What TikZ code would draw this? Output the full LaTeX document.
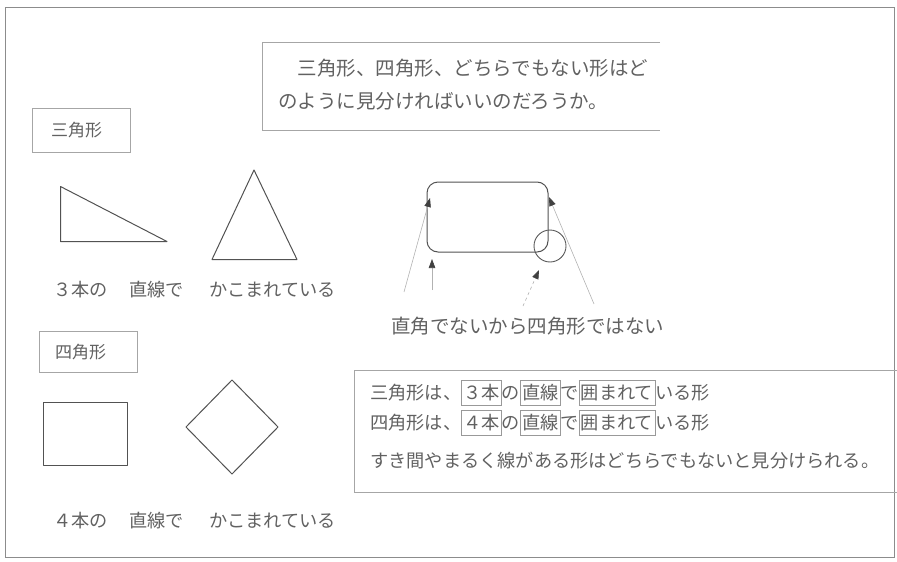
\documentclass[tikz,border=0pt]{standalone}
\usepackage{fontspec}
\setmainfont{Noto Sans CJK JP}
\usetikzlibrary{arrows.meta}
\newcommand\kakomi[1]{{\setlength\fboxsep{1.5pt}\setlength\fboxrule{0.6pt}\fcolorbox{black!40}{white}{\rule[-0.25em]{0pt}{1.2em}#1}}}
\tikzset{
  frame/.style={draw=black!45, line width=0.8pt},
  panel/.style={draw=black!35, line width=0.7pt},
  figline/.style={draw=black!68, line width=1pt, line join=round},
  txt/.style={text=black!62, inner sep=0pt, anchor=west},
  qtxt/.style={txt, font=\fontsize{19.5}{22}\selectfont},
  btxt/.style={txt, font=\fontsize{18.2}{22}\selectfont},
  ltxt/.style={txt, font=\fontsize{17}{20}\selectfont},
  ctxt/.style={txt, font=\fontsize{18.2}{22}\selectfont},
  pointer/.style={draw=black!30, line width=0.6pt,
    -{Triangle[length=9pt,width=6.5pt,color=black!75]}},
}
\begin{document}
\begin{tikzpicture}[x=1pt,y=-1pt]
\useasboundingbox (0,0) rectangle (897,562);
\draw[frame] (5,7) rectangle (894,557);

% question box
\draw[panel] (660,42) -- (262,42) -- (262,130) -- (660,130);
\node[qtxt] (q1) at (278,68) {　三角形、四角形、どちらでもない形はど};
\node[qtxt] (q2) at (278,101) {のように見分ければいいのだろうか。};

% triangle section
\draw[panel] (32,108) rectangle (130,152);
\node[ltxt] (l1) at (51,130) {三角形};
\draw[figline] (60.5,186.5) -- (60.5,241.5) -- (167,241.5) -- cycle;
\draw[figline] (254,170) -- (212,259.5) -- (297,259.5) -- cycle;
\node[btxt] (t1) at (53,290) {３本の\hspace{21.4pt}直線で\hspace{25.4pt}かこまれている};

% rounded rectangle example
\node[figline, rounded corners=11pt, minimum width=121pt, minimum height=70pt] (rr) at (487.5,217) {};
\node[draw=black!65, line width=0.9pt, circle, minimum size=32pt, inner sep=0pt] (circ) at (550,246) {};
\coordinate (a1s) at (404,292); \coordinate (a1e) at (430,198);
\coordinate (a2s) at (432,290); \coordinate (a2e) at (432,259);
\coordinate (a3s) at (523,306); \coordinate (a3e) at (539,270);
\coordinate (a4s) at (594,304); \coordinate (a4e) at (549,197);
\draw[pointer] (a1s) -- (a1e);
\draw[pointer] (a2s) -- (a2e);
\draw[pointer, dashed] (a3s) -- (a3e);
\draw[pointer] (a4s) -- (a4e);
\node[qtxt] (nt) at (391,326) {直角でないから四角形ではない};

% square section
\draw[panel] (39,331) rectangle (137,372);
\node[ltxt] (l2) at (55,352) {四角形};
\draw[figline] (43.5,402.5) rectangle (127.5,465.5);
\draw[figline] (232,380) -- (278,427) -- (232,474) -- (186,427) -- cycle;
\node[btxt] (t2) at (53,521) {４本の\hspace{21.4pt}直線で\hspace{25.4pt}かこまれている};

% conclusion box
\draw[panel] (897,370) -- (354,370) -- (354,492) -- (897,492);
\node[ctxt] (c1) at (370,393) {三角形は、\kakomi{３本}の\kakomi{直線}で\kakomi{囲まれて}いる形};
\node[ctxt] (c2) at (370,423) {四角形は、\kakomi{４本}の\kakomi{直線}で\kakomi{囲まれて}いる形};
\node[ctxt] (c3) at (370,461) {すき間やまるく線がある形はどちらでもないと見分けられる。};
\end{tikzpicture}
\end{document}
